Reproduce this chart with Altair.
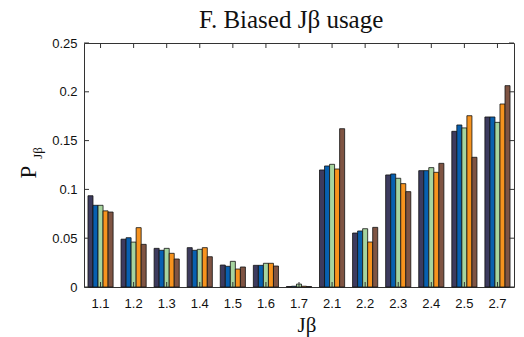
import altair as alt
import pandas as pd

categories = ["1.1", "1.2", "1.3", "1.4", "1.5", "1.6", "1.7", "2.1", "2.2", "2.3", "2.4", "2.5", "2.7"]
series_names = ["S1", "S2", "S3", "S4", "S5"]
series_colors = ["#3d3b5e", "#0860b0", "#a6d49f", "#f7931e", "#7f5443"]

s1 = [0.0935, 0.0490, 0.0396, 0.0403, 0.0225, 0.0222, 0.0005, 0.1199, 0.0553, 0.1148, 0.1192, 0.1595, 0.1742]
s2 = [0.0837, 0.0505, 0.0376, 0.0376, 0.0212, 0.0222, 0.0008, 0.1240, 0.0574, 0.1158, 0.1192, 0.1660, 0.1742]
s3 = [0.0837, 0.0460, 0.0396, 0.0386, 0.0263, 0.0243, 0.0030, 0.1257, 0.0597, 0.1114, 0.1223, 0.1630, 0.1687]
s4 = [0.0780, 0.0608, 0.0345, 0.0403, 0.0184, 0.0243, 0.0008, 0.1209, 0.0461, 0.1059, 0.1175, 0.1755, 0.1875]
s5 = [0.0768, 0.0437, 0.0287, 0.0310, 0.0205, 0.0215, 0.0005, 0.1622, 0.0611, 0.0977, 0.1267, 0.1329, 0.2063]

y_ticks = [0, 0.05, 0.1, 0.15, 0.2, 0.25]

rows = []
for name, vals in zip(series_names, [s1, s2, s3, s4, s5]):
    for c, v in zip(categories, vals):
        rows.append({"cat": c, "series": name, "value": v})
df = pd.DataFrame(rows)
tick_df = pd.DataFrame({"t": y_ticks})
cat_df = pd.DataFrame({"cat": categories})

W, H = 430, 244
label_font = "Liberation Sans"

xscale = alt.Scale(domain=categories, paddingInner=0.24, paddingOuter=0.12)
yscale = alt.Scale(domain=[0, 0.25], nice=False)

bars = alt.Chart(df).mark_bar(stroke="#111111", strokeWidth=0.8).encode(
    x=alt.X("cat:N", scale=xscale, sort=categories,
            axis=alt.Axis(title=None, labelAngle=0, ticks=False, domain=False,
                          labelFont=label_font, labelFontSize=13, labelColor="#111111",
                          labelPadding=10)),
    xOffset=alt.XOffset("series:N", sort=series_names),
    y=alt.Y("value:Q", scale=yscale,
            axis=alt.Axis(title=None, values=y_ticks, format="~g", ticks=False, domain=False,
                          grid=False, labelFont=label_font, labelFontSize=13,
                          labelColor="#111111", labelPadding=7)),
    color=alt.Color("series:N", scale=alt.Scale(domain=series_names, range=series_colors),
                    legend=None),
)

# inward ticks on the y axes (left and right)
ytick_left = alt.Chart(tick_df).mark_rule(color="#333333", strokeWidth=1).encode(
    y=alt.Y("t:Q", scale=yscale), x=alt.value(0), x2=alt.value(5)
)
ytick_right = alt.Chart(tick_df).mark_rule(color="#333333", strokeWidth=1).encode(
    y=alt.Y("t:Q", scale=yscale), x=alt.value(W - 5), x2=alt.value(W)
)
# inward ticks on the x axes (bottom and top)
xtick_bottom = alt.Chart(cat_df).mark_rule(color="#333333", strokeWidth=1).encode(
    x=alt.X("cat:N", scale=xscale, sort=categories), y=alt.value(H), y2=alt.value(H - 5)
)
xtick_top = alt.Chart(cat_df).mark_rule(color="#333333", strokeWidth=1).encode(
    x=alt.X("cat:N", scale=xscale, sort=categories), y=alt.value(0), y2=alt.value(5)
)

title_layer = alt.Chart(pd.DataFrame({"t": ["F. Biased J\u03b2 usage"]})).mark_text(
    font="Liberation Serif", fontSize=25, color="#111111", baseline="alphabetic", align="left"
).encode(text="t:N", x=alt.value(115), y=alt.value(-15))

xtitle = alt.Chart(pd.DataFrame({"t": ["J\u03b2"]})).mark_text(
    font="Liberation Serif", fontSize=21, color="#111111", baseline="middle", align="center"
).encode(text="t:N", x=alt.value(223), y=alt.value(283))

ytitle_p = alt.Chart(pd.DataFrame({"t": ["P"]})).mark_text(
    font="Liberation Serif", fontSize=23, color="#111111", baseline="middle", align="center", angle=270
).encode(text="t:N", x=alt.value(-55), y=alt.value(129))

ytitle_sub = alt.Chart(pd.DataFrame({"t": ["J\u03b2"]})).mark_text(
    font="Liberation Serif", fontSize=13, color="#111111", baseline="middle", align="center", angle=270
).encode(text="t:N", x=alt.value(-46), y=alt.value(110))

chart = alt.layer(
    bars, ytick_left, ytick_right, xtick_bottom, xtick_top,
    title_layer, xtitle, ytitle_p, ytitle_sub
).properties(
    width=W, height=H,
    autosize=alt.AutoSizeParams(type="none"),
    padding={"left": 84, "top": 43, "right": 10, "bottom": 50},
    background="white",
).configure_view(stroke="#333333", strokeWidth=1)

chart.save("out.html", embed_options={"renderer": "svg", "actions": False})
